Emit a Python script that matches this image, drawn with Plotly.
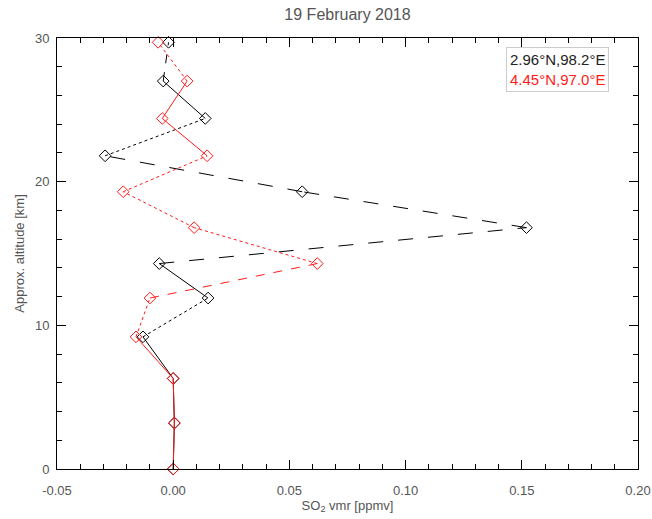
import plotly.graph_objects as go

# Data (altitude levels ascending, km)
altitude = [0.0, 3.2, 6.3, 9.2, 11.9, 14.3, 16.8, 19.3, 21.8, 24.4, 27.0, 29.7]
so2_black = [0.0, 0.0005, 0.0, -0.013, 0.015, -0.006, 0.152, 0.0555, -0.0293, 0.0138, -0.0043, -0.002]
so2_red = [0.0, 0.0005, 0.0, -0.016, -0.010, 0.062, 0.009, -0.0215, 0.0146, -0.0047, 0.006, -0.0065]
label_black = "2.96°N,98.2°E"
label_red = "4.45°N,97.0°E"
title_text = "19 February 2018"

# Styles (per segment line dash, bottom to top)
dash_black = ["solid", "solid", "solid", "dot", "solid", "longdash", "longdash", "longdash", "dot", "solid", "dash"]
dash_red = ["solid", "solid", "solid", "dot", "dash", "dot", "dot", "dot", "solid", "solid", "dot"]

fig = go.Figure()

def add_series(vals, color, dashes):
    for i in range(len(vals) - 1):
        fig.add_trace(go.Scatter(
            x=vals[i:i + 2], y=altitude[i:i + 2], mode="lines",
            line=dict(color=color, width=1, dash=dashes[i]),
            showlegend=False, hoverinfo="skip", cliponaxis=False))
    fig.add_trace(go.Scatter(
        x=vals, y=altitude, mode="markers",
        marker=dict(symbol="diamond-open", size=9, color=color, line=dict(width=1, color=color)),
        showlegend=False, cliponaxis=False))

add_series(so2_black, "black", dash_black)
add_series(so2_red, "#ff1a1a", dash_red)

axis_font = dict(family="Liberation Sans, Arial, sans-serif", size=13, color="#555")

fig.update_layout(
    width=652, height=519,
    margin=dict(l=57, r=14, t=38, b=50, autoexpand=False),
    paper_bgcolor="white", plot_bgcolor="white",
    title=dict(text=title_text, x=0.533, xanchor="center", y=0.973, yanchor="middle",
               font=dict(family="Liberation Sans, Arial, sans-serif", size=16, color="#555")),
    xaxis=dict(range=[-0.05, 0.20], tickvals=[-0.05, 0.0, 0.05, 0.10, 0.15, 0.20],
               ticktext=["-0.05", "0.00", "0.05", "0.10", "0.15", "0.20"],
               automargin=False,
               showgrid=False, zeroline=False, showline=True, linecolor="black", linewidth=1,
               mirror="ticks", ticks="inside", ticklen=9, tickcolor="black",
               minor=dict(dtick=0.01, ticks="inside", ticklen=5, tickcolor="black", showgrid=False),
               tickfont=axis_font, ticklabelstandoff=9,
               title=dict(text="SO<sub>2</sub> vmr [ppmv]", font=axis_font, standoff=2)),
    yaxis=dict(range=[0, 30], tickvals=[0, 10, 20, 30],
               automargin=False,
               showgrid=False, zeroline=False, showline=True, linecolor="black", linewidth=1,
               mirror="ticks", ticks="inside", ticklen=9, tickcolor="black",
               minor=dict(dtick=2, ticks="inside", ticklen=5, tickcolor="black", showgrid=False),
               tickfont=axis_font, ticklabelstandoff=4,
               title=dict(text="Approx. altitude [km]", font=axis_font, standoff=7)),
    annotations=[dict(
        xref="paper", yref="paper", x=0.772, y=0.978, xanchor="left", yanchor="top",
        text=f"{label_black}<br><span style='color:#ff1a1a'>{label_red}</span>",
        showarrow=False, align="left", bordercolor="#cccccc", borderwidth=1, borderpad=3,
        bgcolor="white", font=dict(family="Liberation Sans, Arial, sans-serif", size=15, color="#222"))],
)

fig.write_html("out.html")
